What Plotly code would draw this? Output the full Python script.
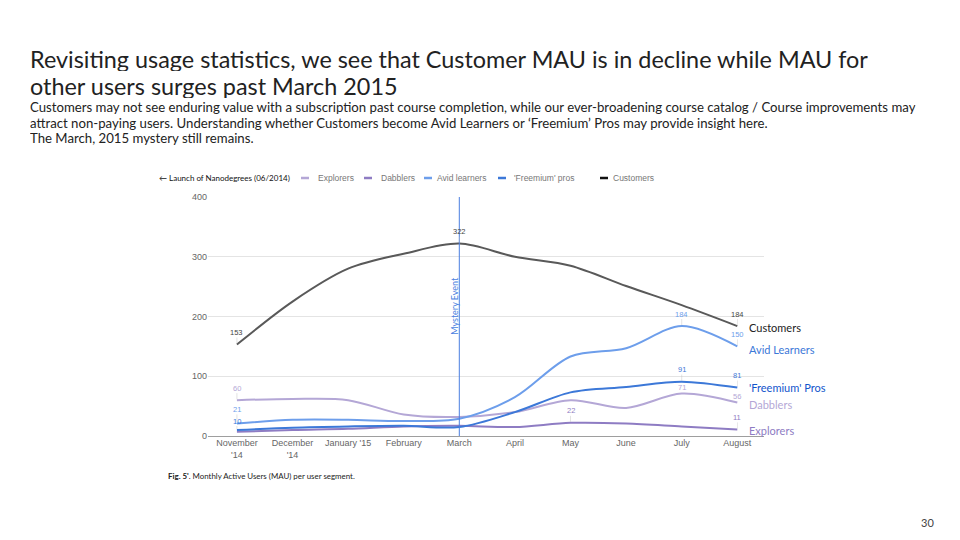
import plotly.graph_objects as go

months = ["November<br>'14", "December<br>'14", "January '15", "February", "March",
          "April", "May", "June", "July", "August"]
customers = [153, 225, 280, 305, 322, 300, 285, 251, 219, 184]
avid = [21, 27, 27, 25, 29, 65, 133, 147, 184, 150]
freemium = [10, 14, 16, 17, 15, 40, 73, 82, 91, 81]
explorers = [60, 62, 60, 36, 32, 40, 60, 47, 71, 56]
dabblers = [7, 10, 12, 16, 17, 15, 22, 21, 16, 11]

# which points carry a value label
customers_lbl = [0, 4, 9]
avid_lbl = [0, 8, 9]
freemium_lbl = [0, 8, 9]
explorers_lbl = [0, 8, 9]
dabblers_lbl = [6, 9]

series = [
    ("Explorers", explorers, explorers_lbl, "#b4a7d6"),
    ("Dabblers", dabblers, dabblers_lbl, "#8e7cc3"),
    ("Avid learners", avid, avid_lbl, "#6d9eeb"),
    ("'Freemium' pros", freemium, freemium_lbl, "#3c78d8"),
    ("Customers", customers, customers_lbl, "#595959"),
]
label_colors = {"Customers": "#444444"}
# label offsets (pixels above the point) that differ from the default
label_shift = {("Explorers", 8): -6, ("Explorers", 9): -6,
               ("Avid learners", 0): -14, ("'Freemium' pros", 0): -9}

event_month = 4
event_label = "Mystery Event"

end_labels = [("Customers", "#222222", 327), ("Avid Learners", "#3c78d8", 349),
              ("'Freemium' Pros", "#1155cc", 387), ("Dabblers", "#b4a7d6", 404),
              ("Explorers", "#8e7cc3", 430)]

# page offset (browser body margin) and plot area in page pixels
OFF = 8
X0, X1, Y0, Y1 = 208 - OFF, 764 - OFF, 197 - OFF, 436 - OFF
def px(x):
    return (x - OFF - X0) / (X1 - X0)
def py(y):
    return (Y1 - (y - OFF)) / (Y1 - Y0)

fig = go.Figure()
xs = list(range(len(months)))
annotations = []
shapes = []
for name, vals, lbl, col in series:
    fig.add_trace(go.Scatter(
        x=xs, y=vals, name=name, mode="lines",
        line=dict(color=col, width=2, shape="spline", smoothing=0.9),
        showlegend=False, hoverinfo="skip"))
    for i in lbl:
        annotations.append(dict(
            xref="x", yref="y", x=xs[i], y=vals[i], text=str(vals[i]),
            showarrow=True, arrowhead=0, arrowwidth=0.6, arrowcolor="rgba(190,190,190,0.7)",
            ax=0, ay=label_shift.get((name, i), -12), standoff=1, borderpad=0,
            font=dict(family="Liberation Sans, Arial", size=7.5,
                      color=label_colors.get(name, col))))

# mystery event line
shapes.append(dict(type="line", xref="x", yref="paper", x0=event_month, x1=event_month,
                   y0=0, y1=1, line=dict(color="#4a7fe0", width=1)))
annotations.append(dict(xref="x", yref="paper", x=event_month, y=py(306), text=event_label,
                        textangle=-90, showarrow=False, xanchor="right", yanchor="middle",
                        xshift=2, font=dict(family="Lato", size=9, color="#4a7fe0")))

# custom legend
legend_pos = [(305, 316), (368, 379), (428, 435), (502, 512), (604, 611)]
for (name, vals, lbl, col), (mx, tx) in zip(series, legend_pos):
    legend_col = "#111111" if name == "Customers" else col
    shapes.append(dict(type="line", xref="paper", yref="paper",
                       x0=px(mx - 4), x1=px(mx + 4), y0=py(178), y1=py(178),
                       line=dict(color=legend_col, width=2.5)))
    annotations.append(dict(xref="paper", yref="paper", x=px(tx), y=py(178), text=name,
                            showarrow=False, xanchor="left", yanchor="middle",
                            font=dict(family="Liberation Sans, Arial", size=8.5, color="#777777")))
annotations.append(dict(xref="paper", yref="paper", x=px(157), y=py(178),
                        text="\u2190 Launch of Nanodegrees (06/2014)", showarrow=False,
                        xanchor="left", yanchor="middle",
                        font=dict(family="Lato", size=8, color="#111111")))

# end labels
for text, col, y in end_labels:
    annotations.append(dict(xref="paper", yref="paper", x=px(747), y=py(y), text=text,
                            showarrow=False, xanchor="left", yanchor="middle",
                            font=dict(family="Lato", size=11, color=col)))

# slide texts
title_lines = ["Revisiting usage statistics, we see that Customer MAU is in decline while MAU for",
               "other users surges past March 2015"]
for i, t in enumerate(title_lines):
    annotations.append(dict(xref="paper", yref="paper", x=px(29), y=py(59 + 27 * i), text=t,
                            showarrow=False, xanchor="left", yanchor="middle",
                            height=24, borderpad=0,
                            font=dict(family="Lato", size=23.4, color="#222222")))
sub_lines = ["Customers may not see enduring value with a subscription past course completion, while our ever-broadening course catalog / Course improvements may",
             "attract non-paying users. Understanding whether Customers become Avid Learners or \u2018Freemium\u2019 Pros may provide insight here.",
             "The March, 2015 mystery still remains."]
for i, t in enumerate(sub_lines):
    annotations.append(dict(xref="paper", yref="paper", x=px(29), y=py(107 + 15.5 * i), text=t,
                            showarrow=False, xanchor="left", yanchor="middle",
                            height=14, borderpad=0,
                            font=dict(family="Lato", size=13.2, color="#222222")))
annotations.append(dict(xref="paper", yref="paper", x=px(166), y=py(476),
                        text="<b>Fig. 5'</b>. Monthly Active Users (MAU) per user segment.",
                        showarrow=False, xanchor="left", yanchor="middle",
                        font=dict(family="Lato", size=7.9, color="#222222")))
annotations.append(dict(xref="paper", yref="paper", x=px(936), y=py(522), text="30",
                        showarrow=False, xanchor="right", yanchor="middle",
                        font=dict(family="Lato", size=11, color="#444444")))

fig.update_layout(
    width=960, height=540,
    margin=dict(l=X0, r=960 - X1, t=Y0, b=540 - Y1, pad=0),
    paper_bgcolor="white", plot_bgcolor="white",
    shapes=shapes, annotations=annotations,
    xaxis=dict(range=[-0.52, 9.48], tickvals=xs, ticktext=months, showgrid=False,
               zeroline=False, showline=False, ticks="",
               tickfont=dict(family="Liberation Sans, Arial", size=9, color="#666666")),
    yaxis=dict(range=[0, 400], dtick=100, showgrid=True, gridcolor="#e4e4e4", gridwidth=1,
               zeroline=True, zerolinecolor="#9e9e9e", zerolinewidth=1, ticks="",
               tickfont=dict(family="Liberation Sans, Arial", size=9, color="#666666")),
)

fig.write_html("out.html")
